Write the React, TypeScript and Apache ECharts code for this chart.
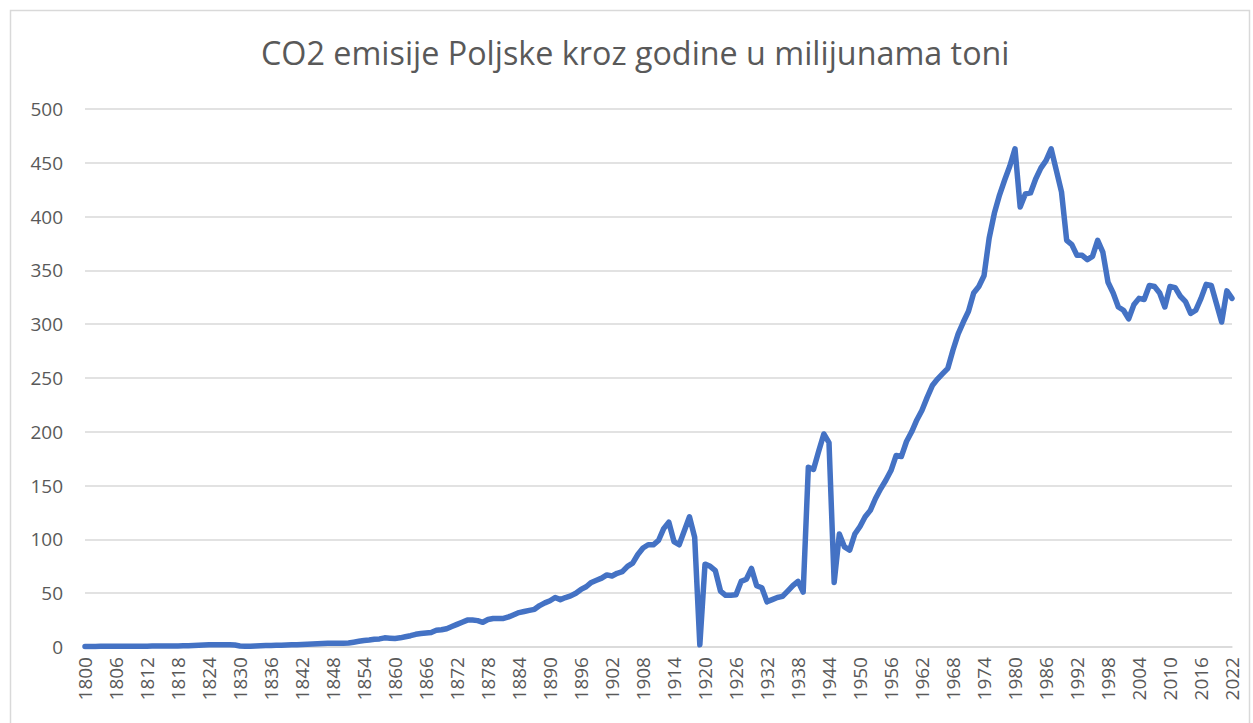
import React, { useEffect, useRef } from "react";
import * as echarts from "echarts";

const TITLE = "CO2 emisije Poljske kroz godine u milijunama toni";

const startYear = 1800;
const endYear = 2022;
const years: string[] = [];
for (let y = startYear; y <= endYear; y++) years.push(String(y));

// Emissions in million tonnes, one array per era
const values1800s = [0.5, 0.5, 0.5, 0.6, 0.6, 0.6, 0.6, 0.7, 0.7, 0.7];
const values1810s = [0.8, 0.8, 0.8, 0.9, 0.9, 0.9, 1, 1, 1, 1.1];
const values1820s = [1.2, 1.4, 1.6, 1.8, 2, 2, 2, 2, 2, 1.8];
const values1830s = [1, 0.8, 0.8, 1, 1.2, 1.4, 1.5, 1.6, 1.7, 1.8];
const values1840s = [2, 2.2, 2.4, 2.6, 2.8, 3, 3.2, 3.4, 3.5, 3.5];
const values1850s = [3.6, 3.8, 4.5, 5.3, 6, 6.5, 7.2, 7.5, 8.5, 8.2];
const values1860s = [8, 8.5, 9.5, 10.5, 11.8, 12.5, 13, 13.5, 15.5, 16];
const values1870s = [17, 19, 21, 23, 25, 25, 24.5, 23, 25.5, 26.5];
const values1880s = [26.5, 26.5, 28, 30, 32, 33, 34, 35, 38.5, 41];
const values1890s = [43, 46, 44, 46, 47.5, 50, 53.5, 56, 60, 62];
const values1900s = [64, 67, 66, 68.5, 70, 75, 78, 86, 92, 95];
const values1910s = [95, 99, 110, 116, 98, 95, 108, 121, 102, 2];
const values1920s = [77, 75, 71, 52, 48, 48, 48.5, 61, 63, 73];
const values1930s = [57, 55, 42, 44, 46, 47, 52, 57, 61, 51];
const values1940s = [167, 165, 182, 198, 190, 60, 105, 93, 90, 105];
const values1950s = [112, 121, 127, 138, 147, 155, 164, 178, 177, 191];
const values1960s = [200, 211, 220, 232, 243, 249, 254, 259, 276, 291];
const values1970s = [302, 312, 329, 335, 345, 380, 403, 420, 434, 447];
const values1980s = [463, 409, 421, 422, 435, 445, 452, 463, 443, 423];
const values1990s = [378, 374, 364, 364, 360, 363, 378, 367, 339, 329];
const values2000s = [316, 313, 305, 318, 324, 323, 336, 335, 329, 316];
const values2010s = [335, 334, 326, 321, 310, 313, 324, 337, 336, 319];
const values2020s = [302, 331, 324];

const emissions = [
  ...values1800s, ...values1810s, ...values1820s, ...values1830s, ...values1840s,
  ...values1850s, ...values1860s, ...values1870s, ...values1880s, ...values1890s,
  ...values1900s, ...values1910s, ...values1920s, ...values1930s, ...values1940s,
  ...values1950s, ...values1960s, ...values1970s, ...values1980s, ...values1990s,
  ...values2000s, ...values2010s, ...values2020s,
];

export default function App() {
  const ref = useRef<HTMLDivElement>(null);
  useEffect(() => {
    if (!ref.current) return;
    const chart = echarts.init(ref.current, null, { renderer: "svg" });
    const font = "'Open Sans', 'Noto Sans', sans-serif";
    chart.setOption({
      animation: false,
      backgroundColor: "#ffffff",
      textStyle: { fontFamily: font },
      title: {
        text: TITLE,
        left: 256,
        top: 31,
        textStyle: {
          fontFamily: font,
          fontSize: 32.3,
          fontWeight: "normal",
          color: "#595959",
        },
      },
      graphic: [
        {
          type: "rect",
          shape: { x: 10.5, y: 10.5, width: 1239, height: 730 },
          style: { fill: "none", stroke: "#D9D9D9", lineWidth: 1.5 },
          silent: true,
        },
      ],
      grid: { left: 85, right: 21, top: 109, bottom: 76, containLabel: false },
      xAxis: {
        type: "category",
        data: years,
        boundaryGap: false,
        axisLine: { show: true, lineStyle: { color: "#D9D9D9", width: 1.5 } },
        axisTick: { show: false },
        axisLabel: {
          interval: 5,
          rotate: 90,
          margin: 10,
          fontSize: 19,
          color: "#595959",
          fontFamily: font,
        },
        splitLine: { show: false },
      },
      yAxis: {
        type: "value",
        min: 0,
        max: 500,
        interval: 50,
        axisLine: { show: false },
        axisTick: { show: false },
        axisLabel: {
          margin: 22,
          fontSize: 19,
          color: "#595959",
          fontFamily: font,
        },
        splitLine: { lineStyle: { color: "#D9D9D9", width: 1.5 } },
      },
      series: [
        {
          type: "line",
          data: emissions,
          showSymbol: false,
          symbol: "none",
          lineStyle: { color: "#4472C4", width: 5.5, join: "round", cap: "round" },
          itemStyle: { color: "#4472C4" },
        },
      ],
    });
    return () => chart.dispose();
  }, []);
  return (
    <div
      ref={ref}
      style={{ position: "absolute", left: 0, top: 0, width: 1253, height: 723 }}
    />
  );
}
